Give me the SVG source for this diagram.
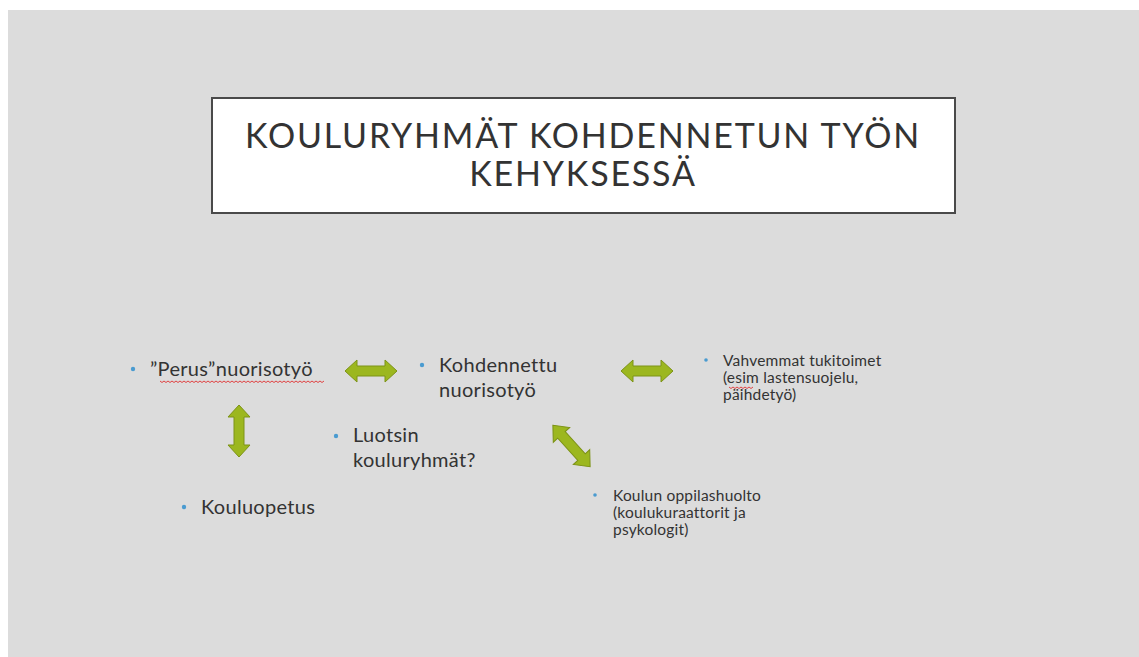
<svg xmlns="http://www.w3.org/2000/svg" xmlns:xlink="http://www.w3.org/1999/xlink" width="1139" height="657" viewBox="0 0 1139 657">
  <style>
    .title { font-family: Lato, "Liberation Sans", sans-serif; font-size: 34px; fill: #333333; letter-spacing: 1.8px; }
    .big { font-family: Lato, "Liberation Sans", sans-serif; font-size: 20px; fill: #333333; letter-spacing: 0.3px; }
    .small { font-family: Lato, "Liberation Sans", sans-serif; font-size: 15.5px; fill: #333333; letter-spacing: 0.2px; }
    .bullet { fill: #4a9bd0; }
    .arrow { fill: #9cb71f; stroke: #7d9317; stroke-width: 1; }
    .squig { fill: none; stroke: #e03030; stroke-width: 0.9; }
  </style>
  <defs>
    <path id="harrow" d="M-26,0 L-14,-11 L-14,-5 L14,-5 L14,-11 L26,0 L14,11 L14,5 L-14,5 L-14,11 Z"/>
  </defs>
  <rect x="0" y="0" width="1139" height="657" fill="#ffffff"/>
  <rect x="8" y="10" width="1131" height="647" fill="#dcdcdc"/>

  <g id="title">
    <rect x="212" y="98" width="743" height="115" fill="#ffffff" stroke="#4a4a4a" stroke-width="2"/>
    <text class="title" x="583" y="148" text-anchor="middle">KOULURYHMÄT KOHDENNETUN TYÖN</text>
    <text class="title" x="583" y="186" text-anchor="middle">KEHYKSESSÄ</text>
  </g>

  <g id="connectors">
    <use xlink:href="#harrow" class="arrow" transform="translate(371,371)"/>
    <use xlink:href="#harrow" class="arrow" transform="translate(647,371)"/>
    <use xlink:href="#harrow" class="arrow" transform="translate(239,431) rotate(90)"/>
    <use xlink:href="#harrow" class="arrow" transform="translate(571.5,446) rotate(48) scale(1.07,1)"/>
  </g>

  <g id="node-perus">
    <circle class="bullet" cx="133" cy="369" r="2.2"/>
    <text class="big" x="150" y="376">”Perus”nuorisotyö</text>
    <path class="squig" d="M160,381 l2,1.5 l2,-1.5 l2,1.5 l2,-1.5 l2,1.5 l2,-1.5 l2,1.5 l2,-1.5 l2,1.5 l2,-1.5 l2,1.5 l2,-1.5 l2,1.5 l2,-1.5 l2,1.5 l2,-1.5 l2,1.5 l2,-1.5 l2,1.5 l2,-1.5 l2,1.5 l2,-1.5 l2,1.5 l2,-1.5 l2,1.5 l2,-1.5 l2,1.5 l2,-1.5 l2,1.5 l2,-1.5 l2,1.5 l2,-1.5 l2,1.5 l2,-1.5 l2,1.5 l2,-1.5 l2,1.5 l2,-1.5 l2,1.5 l2,-1.5 l2,1.5 l2,-1.5 l2,1.5 l2,-1.5 l2,1.5 l2,-1.5 l2,1.5 l2,-1.5 l2,1.5 l2,-1.5 l2,1.5 l2,-1.5 l2,1.5 l2,-1.5 l2,1.5 l2,-1.5 l2,1.5 l2,-1.5 l2,1.5 l2,-1.5 l2,1.5 l2,-1.5 l2,1.5 l2,-1.5 l2,1.5 l2,-1.5 l2,1.5 l2,-1.5 l2,1.5 l2,-1.5 l2,1.5 l2,-1.5 l2,1.5 l2,-1.5 l2,1.5 l2,-1.5 l2,1.5 l2,-1.5 l2,1.5 l2,-1.5 l2,1.5 l2,-1.5"/>
  </g>

  <g id="node-kohdennettu">
    <circle class="bullet" cx="422" cy="365" r="2.2"/>
    <text class="big" x="439" y="372">Kohdennettu</text>
    <text class="big" x="439" y="397">nuorisotyö</text>
  </g>

  <g id="node-vahvemmat">
    <circle class="bullet" cx="706" cy="360" r="1.8"/>
    <text class="small" x="723" y="366">Vahvemmat tukitoimet</text>
    <text class="small" x="723" y="383">(esim lastensuojelu,</text>
    <text class="small" x="723" y="400">päihdetyö)</text>
    <path class="squig" d="M729,387 l2,1.5 l2,-1.5 l2,1.5 l2,-1.5 l2,1.5 l2,-1.5 l2,1.5 l2,-1.5 l2,1.5 l2,-1.5 l2,1.5 l2,-1.5"/>
  </g>

  <g id="node-luotsin">
    <circle class="bullet" cx="336" cy="436" r="2.2"/>
    <text class="big" x="353" y="442">Luotsin</text>
    <text class="big" x="353" y="467">kouluryhmät?</text>
  </g>

  <g id="node-kouluopetus">
    <circle class="bullet" cx="184" cy="507" r="2.2"/>
    <text class="big" x="201" y="514">Kouluopetus</text>
  </g>

  <g id="node-oppilashuolto">
    <circle class="bullet" cx="595" cy="495" r="1.8"/>
    <text class="small" x="613" y="501">Koulun oppilashuolto</text>
    <text class="small" x="613" y="518">(koulukuraattorit ja</text>
    <text class="small" x="613" y="535">psykologit)</text>
  </g>
</svg>
